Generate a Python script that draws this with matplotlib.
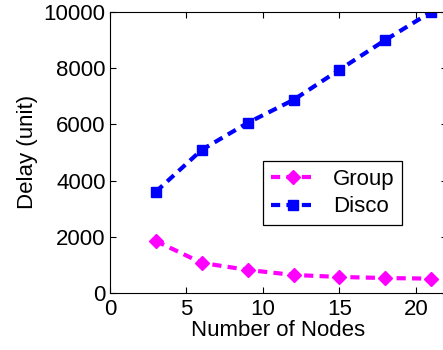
import matplotlib.pyplot as plt

plt.rcParams['font.family'] = ['Liberation Sans', 'DejaVu Sans']

nodes = [3, 6, 9, 12, 15, 18, 21]
group_delay = [1850, 1070, 820, 640, 570, 530, 510]
disco_delay = [3600, 5090, 6050, 6870, 7940, 9000, 10000]

fig = plt.figure(figsize=(4.43, 3.5), dpi=100)
ax = fig.add_axes([0.248, 0.163, 0.76, 0.803])

ax.plot(nodes, group_delay, linestyle='--', color='magenta', linewidth=3,
        marker='D', markersize=7.5, label='Group', dashes=(2.2, 1.5))
ax.plot(nodes, disco_delay, linestyle='--', color='blue', linewidth=3,
        marker='s', markersize=7, label='Disco', dashes=(2.2, 1.5))

ax.set_xlim(0, 22)
ax.set_ylim(0, 10000)
ax.set_xticks([0, 5, 10, 15, 20])
ax.set_yticks([0, 2000, 4000, 6000, 8000, 10000])
ax.tick_params(direction='in', top=True, right=True, labelsize=16, length=4)
ax.tick_params(axis='x', pad=4)
ax.tick_params(axis='y', pad=3)
ax.set_xlabel('Number of Nodes', fontsize=16, labelpad=0)
ax.set_ylabel('Delay (unit)', fontsize=16, labelpad=4)

leg = ax.legend(loc='upper left', bbox_to_anchor=(0.455, 0.47), fontsize=16,
                fancybox=False, edgecolor='black', framealpha=1,
                handlelength=2.0, borderpad=0.35, labelspacing=0.3,
                handletextpad=0.8, borderaxespad=0)
leg.get_frame().set_linewidth(0.9)

fig.savefig('out.png', dpi=100)
